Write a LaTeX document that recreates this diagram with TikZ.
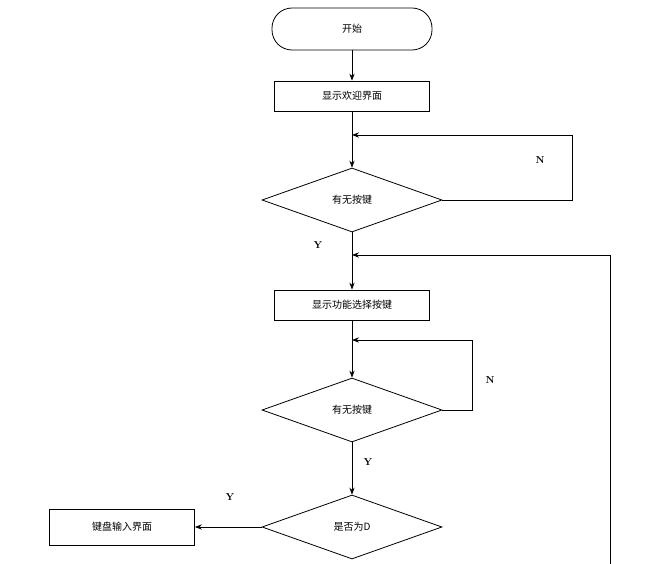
\documentclass[tikz,border=0pt]{standalone}
\usepackage{fontspec}
\newfontfamily\cjk{Noto Sans CJK SC}
\usetikzlibrary{shapes.geometric,arrows.meta}
\tikzset{
    procbox/.style={draw,thick,minimum width=155pt,minimum height=30pt,font=\cjk},
    startbox/.style={draw,thick,rounded corners=20pt,minimum width=160pt,minimum height=42pt,font=\cjk},
    decide/.style={draw,thick,diamond,aspect=2.8,minimum width=180pt,minimum height=64pt,inner sep=0pt,font=\cjk},
    flow/.style={thick,-{Stealth[length=7pt]}},
    yn/.style={font=\bfseries}
}
\begin{document}
\begin{tikzpicture}[x=1pt,y=-1pt]
    \useasboundingbox (0,0) rectangle (659,564);
    % main column
    \node[startbox] (start) at (352,29) {开始};
    \node[procbox] (welcome) at (352,96) {显示欢迎界面};
    \node[decide] (key1) at (352,200) {有无按键};
    \node[procbox] (menu) at (352,305) {显示功能选择按键};
    \node[decide] (key2) at (352,410) {有无按键};
    \node[decide] (isD) at (352,527) {是否为D};
    \node[procbox,minimum width=145pt,minimum height=36pt] (kbd) at (122,527) {键盘输入界面};
    \coordinate (loop1) at (352,135);
    \coordinate (loop2) at (352,340);
    \coordinate (back) at (352,255);
    \coordinate (bottom) at (610,564);

    \draw[flow] (start) -- (welcome);
    \draw[thick] (welcome) -- (loop1);
    \draw[flow] (loop1) -- (key1);
    \draw[flow] (key1.east) -| (572,135) -- (loop1);
    \node[yn] at (540,160) {N};
    \draw[thick] (key1) -- (back);
    \draw[flow] (back) -- (menu);
    \node[yn] at (318,245) {Y};
    \draw[flow] (bottom) |- (back);
    \draw[thick] (menu) -- (loop2);
    \draw[flow] (loop2) -- (key2);
    \draw[flow] (key2.east) -| (472,340) -- (loop2);
    \node[yn] at (490,380) {N};
    \draw[flow] (key2) -- (isD);
    \node[yn] at (368,462) {Y};
    \draw[flow] (isD) -- (kbd);
    \node[yn] at (230,497) {Y};
\end{tikzpicture}
\end{document}
